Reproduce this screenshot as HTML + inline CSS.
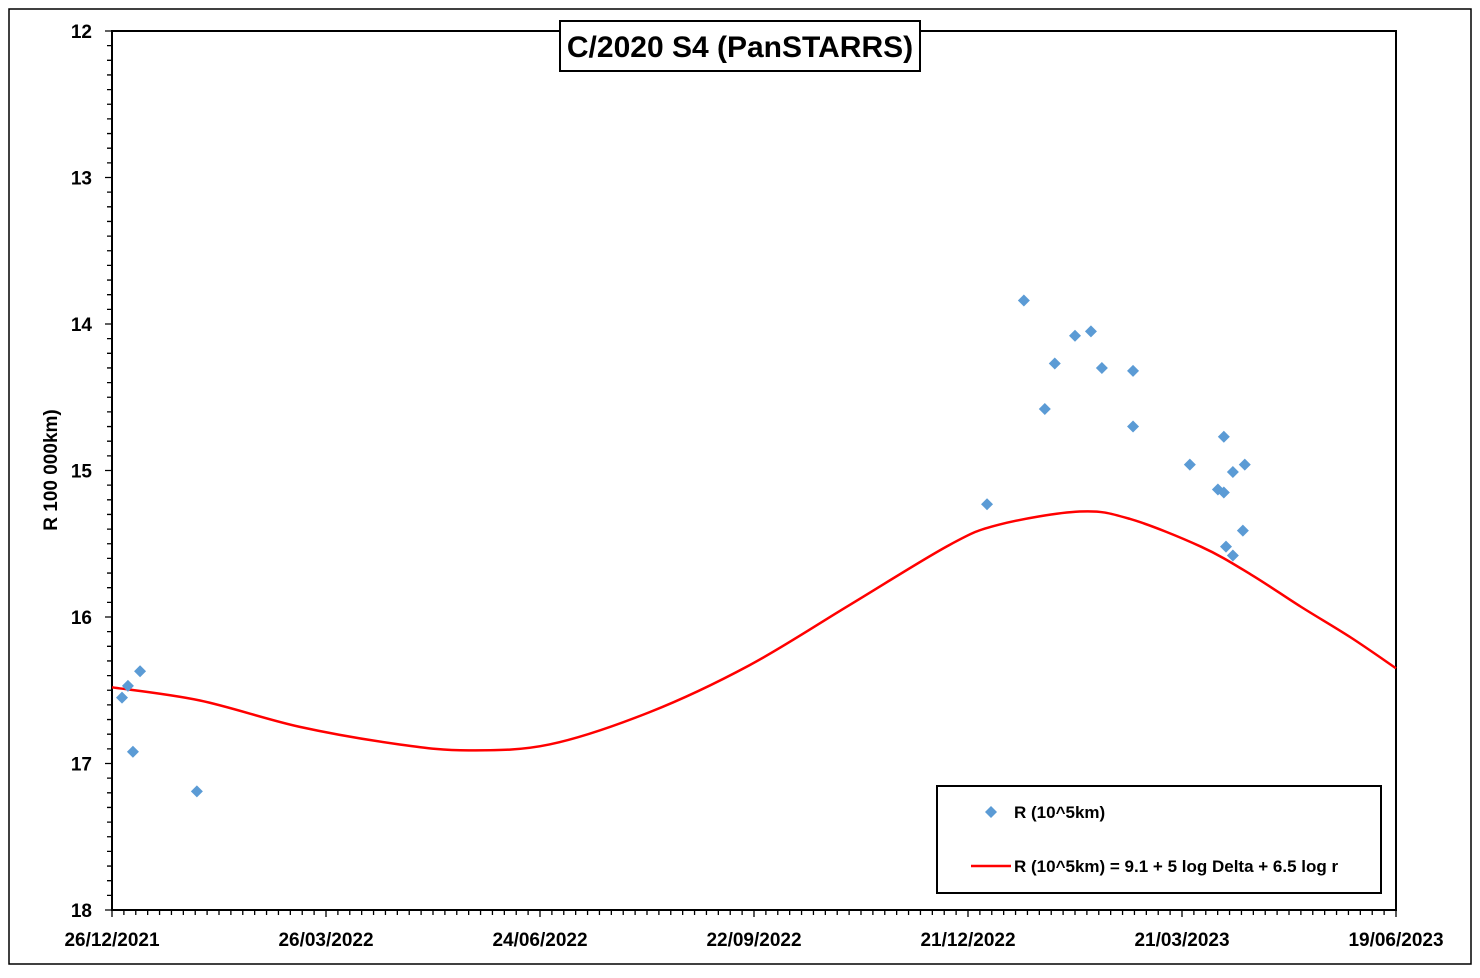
<!DOCTYPE html>
<html><head><meta charset="utf-8"><style>
body{margin:0;background:#fff;font-family:"Liberation Sans",sans-serif}
svg text{font-family:"Liberation Sans",sans-serif;font-weight:bold}
</style></head><body>
<svg id="c" width="1480" height="973" xmlns="http://www.w3.org/2000/svg">
<rect x="9" y="9" width="1462" height="955" fill="#fff" stroke="#000" stroke-width="1.5"/>
<g id="g"></g>
</svg>
<script>
const xTickLabels=["26/12/2021","26/03/2022","24/06/2022","22/09/2022","21/12/2022","21/03/2023","19/06/2023"];
const yTickLabels=["12","13","14","15","16","17","18"];
const obsDays=[4.2,6.7,8.8,11.8,35.7,368,383.5,392.3,396.5,405,411.7,416.3,429.4,429.4,453.3,465.1,467.6,467.6,471.4,476.4,468.5,471.4,475.6];
const obsMag=[16.55,16.47,16.92,16.37,17.19,15.23,13.84,14.58,14.27,14.08,14.05,14.30,14.32,14.70,14.96,15.13,15.15,14.77,15.01,14.96,15.52,15.58,15.41];
const fitDays=[0,37,79,121,150,184,226,268,310,352,373,407,428,458,479,500,521,540];
const fitMag=[16.48,16.57,16.75,16.87,16.91,16.87,16.65,16.33,15.92,15.51,15.37,15.28,15.33,15.52,15.71,15.93,16.14,16.35];
const X0=112,X1=1396,Y0=31,Y1=910,DMAX=540,MMIN=12,MMAX=18;
const xs=d=>X0+(X1-X0)*d/DMAX, ys=m=>Y0+(Y1-Y0)*(m-MMIN)/(MMAX-MMIN);
const NS="http://www.w3.org/2000/svg",g=document.getElementById('g');
function mk(t,a,txt){const e=document.createElementNS(NS,t);for(const k in a)e.setAttribute(k,a[k]);if(txt!==undefined)e.textContent=txt;g.appendChild(e);return e;}
let e=mk('rect',{x:X0,y:Y0,width:X1-X0,height:Y1-Y0,fill:'none',stroke:'#000','stroke-width':2});


let tk='';
for(let d=0;d<=DMAX;d+=5){const x=xs(d);tk+=`M${x},${Y1}v${d%90==0?7:5}`;}
for(let m=0;m<=60;m++){const y=ys(MMIN+m/10);tk+=`M${X0},${y}h${m%10==0?-7:-5}`;}
e=mk('path',{d:tk,stroke:'#000','stroke-width':1.3,fill:'none'});


xTickLabels.forEach((l,i)=>{const t=mk('text',{x:xs(i*90),y:946,'text-anchor':'middle','font-size':19},l);

});
yTickLabels.forEach((l,i)=>{const t=mk('text',{x:92,y:ys(MMIN+i)+7,'text-anchor':'end','font-size':19},l);

});
e=mk('text',{x:57,y:470,'text-anchor':'middle','font-size':19,transform:'rotate(-90 57 470)'},'R 100 000km)');


// fit curve (Catmull-Rom)
const P=fitDays.map((d,i)=>[xs(d),ys(fitMag[i])]);
let pd=`M${P[0][0]},${P[0][1]}`;
for(let i=0;i<P.length-1;i++){const p0=P[Math.max(0,i-1)],p1=P[i],p2=P[i+1],p3=P[Math.min(P.length-1,i+2)];
pd+=`C${p1[0]+(p2[0]-p0[0])/6},${p1[1]+(p2[1]-p0[1])/6} ${p2[0]-(p3[0]-p1[0])/6},${p2[1]-(p3[1]-p1[1])/6} ${p2[0]},${p2[1]}`;}
e=mk('path',{d:pd,stroke:'#f00','stroke-width':2.5,fill:'none'});


obsDays.forEach((d,i)=>{const x=xs(d),y=ys(obsMag[i]);
const p=mk('path',{d:`M${x},${y-6}L${x+6},${y}L${x},${y+6}L${x-6},${y}Z`,fill:'#5b9bd5'});

});
// title
e=mk('rect',{x:560,y:21,width:360,height:50,fill:'#fff',stroke:'#000','stroke-width':2});


e=mk('text',{x:740,y:57,'text-anchor':'middle','font-size':30},'C/2020 S4 (PanSTARRS)');


// legend
e=mk('rect',{x:937,y:786,width:444,height:107,fill:'#fff',stroke:'#000','stroke-width':2});


e=mk('path',{d:'M991,806L997,812L991,818L985,812Z',fill:'#5b9bd5'});


e=mk('text',{x:1014,y:818,'font-size':17},'R (10^5km)');


e=mk('path',{d:'M971,866H1011',stroke:'#f00','stroke-width':2.5});


e=mk('text',{x:1014,y:872,'font-size':17},'R (10^5km) = 9.1 + 5 log Delta + 6.5 log r');


</script>
</body></html>
